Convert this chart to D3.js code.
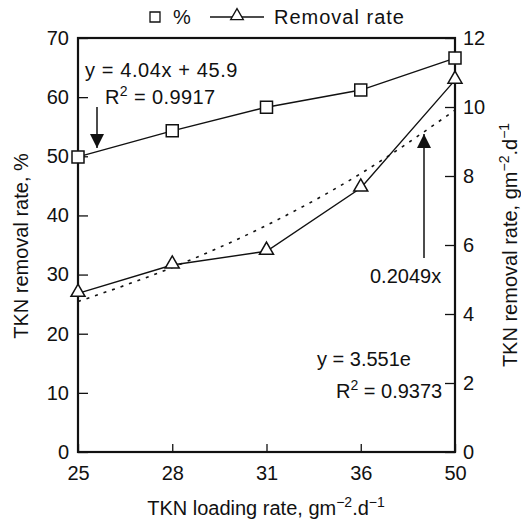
<!DOCTYPE html>
<html>
<head>
<meta charset="utf-8">
<script src="https://cdn.jsdelivr.net/npm/d3@7"></script>
<style>
  body { margin: 0; background: #fff; }
  text { font-family: "Liberation Sans", Arial, sans-serif; fill: #111; }
</style>
</head>
<body>
<div id="chart"></div>
<script>
// data
var loading = ["25", "28", "31", "36", "50"];
var removalPct = [49.9, 54.3, 58.3, 61.2, 66.6];
var removalRate = [4.6, 5.42, 5.82, 7.65, 10.78];
var expTrend = [4.36, 5.35, 6.57, 8.07, 9.91];
var leftTicks = [0, 10, 20, 30, 40, 50, 60, 70];
var rightTicks = [0, 2, 4, 6, 8, 10, 12];

var margin = {top: 38, right: 66, bottom: 71, left: 78},
    width = 521 - margin.left - margin.right,
    height = 523 - margin.top - margin.bottom;

var fs = "20px";

var svg = d3.select("#chart")
  .append("svg")
    .attr("width", 521)
    .attr("height", 523);

var g = svg.append("g")
    .attr("transform", "translate(" + margin.left + "," + margin.top + ")");

var x = d3.scalePoint().domain(loading).range([0, width]);
var yL = d3.scaleLinear().domain([0, 70]).range([height, 0]);
var yR = d3.scaleLinear().domain([0, 12]).range([height, 0]);

// axes, ticks pointing inward
var ax = g.append("g")
  .attr("transform", "translate(0," + height + ")")
  .call(d3.axisBottom(x).tickSizeInner(-8).tickSizeOuter(0).tickPadding(14));
var ayl = g.append("g")
  .call(d3.axisLeft(yL).tickValues(leftTicks).tickSizeInner(-10).tickSizeOuter(0).tickPadding(9));
var ayr = g.append("g")
  .attr("transform", "translate(" + width + ",0)")
  .call(d3.axisRight(yR).tickValues(rightTicks).tickSizeInner(-10).tickSizeOuter(0).tickPadding(8));

[ax, ayl, ayr].forEach(function(a) {
  a.selectAll("text").style("font-size", fs).attr("fill", "#111")
    .style("font-family", "'Liberation Sans', Arial, sans-serif");
  a.selectAll("line").attr("stroke", "#111").attr("stroke-width", 1.3);
  a.select(".domain").remove();
});
ax.selectAll("text").attr("dy", "0.71em");

// frame
g.append("rect")
  .attr("width", width).attr("height", height)
  .attr("fill", "none").attr("stroke", "#111").attr("stroke-width", 2.2);

// lines
var linePct = d3.line()
  .x(function(d, i) { return x(loading[i]); })
  .y(function(d) { return yL(d); });
var lineRate = d3.line()
  .x(function(d, i) { return x(loading[i]); })
  .y(function(d) { return yR(d); });
var lineTrend = d3.line()
  .x(function(d, i) { return x(loading[i]); })
  .y(function(d) { return yR(d); })
  .curve(d3.curveMonotoneX);

g.append("path").datum(expTrend)
  .attr("d", lineTrend).attr("fill", "none")
  .attr("stroke", "#111").attr("stroke-width", 1.6)
  .attr("stroke-dasharray", "3,6");

g.append("path").datum(removalPct)
  .attr("d", linePct).attr("fill", "none")
  .attr("stroke", "#111").attr("stroke-width", 1.4);
g.append("path").datum(removalRate)
  .attr("d", lineRate).attr("fill", "none")
  .attr("stroke", "#111").attr("stroke-width", 1.4);

var sq = d3.symbol().type(d3.symbolSquare).size(144);
var tri = d3.symbol().type(d3.symbolTriangle).size(85);

g.selectAll(".sq").data(removalPct).enter().append("path")
  .attr("class", "sq")
  .attr("d", sq)
  .attr("transform", function(d, i) { return "translate(" + x(loading[i]) + "," + yL(d) + ")"; })
  .attr("fill", "#fff").attr("stroke", "#111").attr("stroke-width", 1.5);

g.selectAll(".tri").data(removalRate).enter().append("path")
  .attr("class", "tri")
  .attr("d", tri)
  .attr("transform", function(d, i) { return "translate(" + x(loading[i]) + "," + (yR(d) - 1) + ")"; })
  .attr("fill", "#fff").attr("stroke", "#111").attr("stroke-width", 1.5);

// arrows
svg.append("defs").append("marker")
  .attr("id", "head")
  .attr("viewBox", "0 0 10 10")
  .attr("refX", 10).attr("refY", 5)
  .attr("markerWidth", 14).attr("markerHeight", 14)
  .attr("markerUnits", "userSpaceOnUse")
  .attr("orient", "auto")
  .append("path").attr("d", "M0,0 L10,5 L0,10 Z").attr("fill", "#111");

svg.append("line")
  .attr("x1", 97).attr("y1", 107).attr("x2", 97).attr("y2", 148)
  .attr("stroke", "#111").attr("stroke-width", 1.5)
  .attr("marker-end", "url(#head)");
svg.append("line")
  .attr("x1", 424).attr("y1", 258).attr("x2", 424).attr("y2", 134)
  .attr("stroke", "#111").attr("stroke-width", 1.5)
  .attr("marker-end", "url(#head)");

// equation texts
function eq(xp, yp, parts) {
  var t = svg.append("text").attr("x", xp).attr("y", yp).style("font-size", fs);
  parts.forEach(function(p) {
    var s = t.append("tspan").text(p[0]);
    if (p[1] === "sup") s.attr("dy", -8).style("font-size", "14px");
    if (p[1] === "down") s.attr("dy", 8);
  });
  return t;
}
eq(85, 77, [["y = 4.04x + 45.9"]]).attr("letter-spacing", "0.6px");
eq(105, 104, [["R"], ["2", "sup"], [" = 0.9917", "down"]]).attr("letter-spacing", "0.4px");
eq(370, 283, [["0.2049x"]]);
eq(317, 366, [["y = 3.551e"]]);
eq(336, 398, [["R"], ["2", "sup"], [" = 0.9373", "down"]]);

// legend
var lg = svg.append("g");
lg.append("path").attr("d", sq.size(100))
  .attr("transform", "translate(155,17)")
  .attr("fill", "#fff").attr("stroke", "#111").attr("stroke-width", 1.3);
lg.append("text").attr("x", 173).attr("y", 24).style("font-size", fs).text("%");
lg.append("line").attr("x1", 210).attr("x2", 264).attr("y1", 17).attr("y2", 17)
  .attr("stroke", "#111").attr("stroke-width", 1.3);
lg.append("path").attr("d", tri.size(70))
  .attr("transform", "translate(237,16)")
  .attr("fill", "#fff").attr("stroke", "#111").attr("stroke-width", 1.3);
lg.append("text").attr("x", 274).attr("y", 24).style("font-size", fs)
  .attr("letter-spacing", "1px").text("Removal rate");

// axis titles
var supT = '<tspan dy="-8" style="font-size:14px">\u22122</tspan><tspan dy="8">.d</tspan><tspan dy="-8" style="font-size:14px">\u22121</tspan>';
svg.append("text")
  .attr("x", 266).attr("y", 515)
  .attr("text-anchor", "middle").style("font-size", fs)
  .html('TKN loading rate, gm' + supT);

svg.append("text")
  .attr("transform", "translate(28,246) rotate(-90)")
  .attr("text-anchor", "middle").style("font-size", fs)
  .text("TKN removal rate, %");

svg.append("text")
  .attr("transform", "translate(517,245) rotate(-90)")
  .attr("text-anchor", "middle").style("font-size", fs)
  .html('TKN removal rate, gm' + supT);
</script>
</body>
</html>
